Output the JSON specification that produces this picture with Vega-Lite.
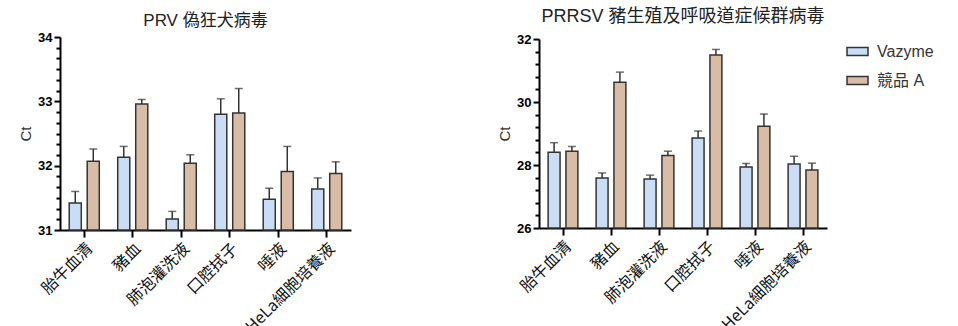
{
  "$schema": "https://vega.github.io/schema/vega-lite/v6.json",
  "padding": {"left": 18, "top": 8, "right": 0, "bottom": 0},
  "background": "white",
  "center": true,
  "datasets": {
    "prv": [
      {"sample": "胎牛血清", "group": "Vazyme", "ct": 31.42, "upper": 31.60},
      {"sample": "胎牛血清", "group": "競品 A", "ct": 32.07, "upper": 32.26},
      {"sample": "豬血", "group": "Vazyme", "ct": 32.13, "upper": 32.30},
      {"sample": "豬血", "group": "競品 A", "ct": 32.96, "upper": 33.03},
      {"sample": "肺泡灌洗液", "group": "Vazyme", "ct": 31.17, "upper": 31.29},
      {"sample": "肺泡灌洗液", "group": "競品 A", "ct": 32.04, "upper": 32.17},
      {"sample": "口腔拭子", "group": "Vazyme", "ct": 32.80, "upper": 33.04},
      {"sample": "口腔拭子", "group": "競品 A", "ct": 32.82, "upper": 33.20},
      {"sample": "唾液", "group": "Vazyme", "ct": 31.48, "upper": 31.65},
      {"sample": "唾液", "group": "競品 A", "ct": 31.91, "upper": 32.30},
      {"sample": "HeLa細胞培養液", "group": "Vazyme", "ct": 31.64, "upper": 31.81},
      {"sample": "HeLa細胞培養液", "group": "競品 A", "ct": 31.88, "upper": 32.06}
    ],
    "prrsv": [
      {"sample": "胎牛血清", "group": "Vazyme", "ct": 28.41, "upper": 28.71},
      {"sample": "胎牛血清", "group": "競品 A", "ct": 28.44, "upper": 28.59},
      {"sample": "豬血", "group": "Vazyme", "ct": 27.59, "upper": 27.75},
      {"sample": "豬血", "group": "競品 A", "ct": 30.63, "upper": 30.95},
      {"sample": "肺泡灌洗液", "group": "Vazyme", "ct": 27.56, "upper": 27.68},
      {"sample": "肺泡灌洗液", "group": "競品 A", "ct": 28.30, "upper": 28.44},
      {"sample": "口腔拭子", "group": "Vazyme", "ct": 28.86, "upper": 29.08},
      {"sample": "口腔拭子", "group": "競品 A", "ct": 31.49, "upper": 31.67},
      {"sample": "唾液", "group": "Vazyme", "ct": 27.94, "upper": 28.05},
      {"sample": "唾液", "group": "競品 A", "ct": 29.23, "upper": 29.62},
      {"sample": "HeLa細胞培養液", "group": "Vazyme", "ct": 28.03, "upper": 28.28},
      {"sample": "HeLa細胞培養液", "group": "競品 A", "ct": 27.84, "upper": 28.06}
    ]
  },
  "config": {
    "view": {"stroke": null},
    "font": "Liberation Sans, Noto Sans CJK TC",
    "axis": {
      "domainColor": "#000", "domainWidth": 2, "tickColor": "#000", "tickWidth": 2,
      "grid": false, "labelColor": "#000", "titleColor": "#333",
      "titleFont": "Liberation Sans, Noto Sans CJK TC", "titleFontWeight": "normal"
    },
    "title": {"font": "Liberation Sans, Noto Sans CJK TC", "fontWeight": "normal", "color": "#222", "anchor": "middle"}
  },
  "spacing": 146,
  "resolve": {"scale": {"y": "independent", "x": "independent", "xOffset": "independent", "color": "shared"}},
  "hconcat": [
    {
      "title": {"text": "PRV 偽狂犬病毒", "fontSize": 17, "offset": 1},
      "width": 291, "height": 193,
      "data": {"name": "prv"},
      "encoding": {
        "x": {"field": "sample", "type": "nominal", "sort": null,
          "scale": {"paddingInner": 0.38, "paddingOuter": 0.19},
          "axis": {"title": null, "labelAngle": -45, "labelAlign": "right", "labelBaseline": "top", "labelFontSize": 16, "labelFont": "Noto Sans CJK TC", "labelColor": "#111", "tickSize": 7, "labelPadding": 3}},
        "xOffset": {"field": "group", "sort": ["Vazyme", "競品 A"], "scale": {"paddingInner": 0.33}}
      },
      "resolve": {"axis": {"y": "independent"}},
      "layer": [
        {
          "mark": {"type": "bar", "stroke": "#333", "strokeWidth": 1.5},
          "encoding": {
            "y": {"field": "ct", "type": "quantitative", "title": "Ct",
              "scale": {"domain": [31, 34], "nice": false, "zero": false},
              "axis": {
                "orient": "left", "values": [31, 32, 33, 34], "format": "d", "tickSize": 6,
                "labelFontSize": 13, "labelFontWeight": "bold", "labelFont": "Liberation Sans", "labelPadding": 2,
                "titleFontSize": 15, "titlePadding": 4
              }},
            "y2": {"datum": 31},
            "color": {"field": "group", "type": "nominal", "sort": ["Vazyme", "競品 A"],
              "scale": {"domain": ["Vazyme", "競品 A"], "range": ["#c9ddf6", "#d9bca6"]},
              "legend": {"title": null, "orient": "none", "legendX": 786, "legendY": 3,
                "labelFontSize": 16, "labelColor": "#333", "labelFont": "Liberation Sans, Noto Sans CJK TC",
                "symbolType": "M-1,-0.38H1V0.38H-1Z", "symbolSize": 441, "symbolStrokeColor": "#333", "symbolStrokeWidth": 1.5,
                "rowPadding": 9, "labelOffset": 8}}
          }
        },
        {
          "mark": {"type": "rule", "color": "#333", "strokeWidth": 1.5},
          "encoding": {
            "y": {"field": "ct", "type": "quantitative",
              "axis": {"orient": "left", "title": null, "labels": false, "domain": false, "tickSize": 4,
                "values": [31.1667, 31.3333, 31.5, 31.6667, 31.8333, 32.1667, 32.3333, 32.5, 32.6667, 32.8333, 33.1667, 33.3333, 33.5, 33.6667, 33.8333]}},
            "y2": {"field": "upper"}
          }
        },
        {
          "mark": {"type": "tick", "color": "#333", "thickness": 1.5, "size": 8},
          "encoding": {"y": {"field": "upper", "type": "quantitative", "axis": null}}
        }
      ]
    },
    {
      "title": {"text": "PRRSV 豬生殖及呼吸道症候群病毒", "fontSize": 18, "offset": 7},
      "width": 288, "height": 189,
      "data": {"name": "prrsv"},
      "encoding": {
        "x": {"field": "sample", "type": "nominal", "sort": null,
          "scale": {"paddingInner": 0.38, "paddingOuter": 0.19},
          "axis": {"title": null, "labelAngle": -45, "labelAlign": "right", "labelBaseline": "top", "labelFontSize": 16, "labelFont": "Noto Sans CJK TC", "labelColor": "#111", "tickSize": 7, "labelPadding": 3}},
        "xOffset": {"field": "group", "sort": ["Vazyme", "競品 A"], "scale": {"paddingInner": 0.33}}
      },
      "resolve": {"axis": {"y": "independent"}},
      "layer": [
        {
          "mark": {"type": "bar", "stroke": "#333", "strokeWidth": 1.5},
          "encoding": {
            "y": {"field": "ct", "type": "quantitative", "title": "Ct",
              "scale": {"domain": [26, 32], "nice": false, "zero": false},
              "axis": {
                "orient": "left", "values": [26, 28, 30, 32], "format": "d", "tickSize": 6,
                "labelFontSize": 13, "labelFontWeight": "bold", "labelFont": "Liberation Sans", "labelPadding": 2,
                "titleFontSize": 15, "titlePadding": 4
              }},
            "y2": {"datum": 26},
            "color": {"field": "group", "type": "nominal", "sort": ["Vazyme", "競品 A"]}
          }
        },
        {
          "mark": {"type": "rule", "color": "#333", "strokeWidth": 1.5},
          "encoding": {
            "y": {"field": "ct", "type": "quantitative",
              "axis": {"orient": "left", "title": null, "labels": false, "domain": false, "tickSize": 4,
                "values": [26.4, 26.8, 27.2, 27.6, 28.4, 28.8, 29.2, 29.6, 30.4, 30.8, 31.2, 31.6]}},
            "y2": {"field": "upper"}
          }
        },
        {
          "mark": {"type": "tick", "color": "#333", "thickness": 1.5, "size": 8},
          "encoding": {"y": {"field": "upper", "type": "quantitative", "axis": null}}
        }
      ]
    }
  ]
}
